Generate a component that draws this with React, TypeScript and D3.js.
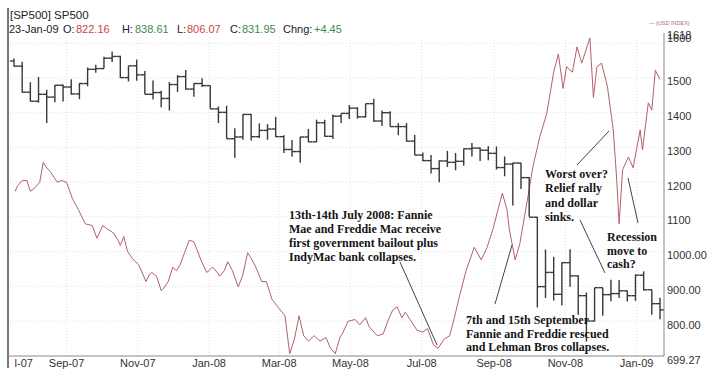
import React from "react";
import * as d3 from "d3";

// ---- DATA ----
// weekly bars (mid-week date of each trading week)
const weeks: Date[] = d3.timeWednesday.range(new Date(2007, 6, 18), new Date(2009, 0, 22));

const spOpen = [1549,1534,1459,1433,1453,1445,1479,1474,1454,1484,1525,1527,1557,1562,1501,1535,1509,1453,1458,1441,
  1481,1504,1468,1484,1478,1411,1401,1325,1330,1395,1331,1349,1353,1331,1294,1288,1330,1316,1371,1332,
  1390,1398,1413,1388,1426,1376,1400,1360,1360,1318,1278,1262,1239,1261,1257,1260,1296,1298,1292,1283,
  1242,1252,1255,1213,1099,899,940,877,968,930,873,800,896,876,879,887,873,932,890,850];
const spHigh = [1556,1547,1488,1503,1466,1480,1481,1496,1485,1530,1538,1561,1576,1564,1535,1553,1520,1493,1463,1488,
  1508,1523,1485,1499,1478,1418,1420,1355,1396,1396,1369,1367,1388,1335,1321,1331,1353,1380,1380,1395,
  1398,1422,1416,1426,1440,1406,1404,1370,1370,1336,1285,1278,1263,1290,1284,1297,1313,1300,1304,1303,
  1274,1256,1256,1215,1100,1006,985,969,1007,932,882,896,896,919,918,888,934,943,890,867];
const spLow = [1533,1458,1433,1429,1370,1430,1432,1452,1439,1476,1515,1527,1546,1500,1490,1492,1453,1438,1416,1406,
  1460,1467,1446,1474,1411,1370,1325,1270,1322,1320,1327,1322,1330,1284,1273,1256,1315,1315,1331,1324,
  1370,1382,1383,1386,1374,1362,1360,1335,1317,1278,1260,1225,1200,1244,1234,1247,1274,1261,1263,1236,
  1217,1133,1180,1100,839,866,859,845,899,818,741,799,815,857,866,856,858,888,818,805];
const spClose = [1534,1459,1433,1453,1445,1479,1474,1454,1484,1525,1527,1557,1562,1501,1535,1509,1453,1458,1441,1481,
  1504,1468,1484,1478,1411,1401,1325,1330,1395,1331,1349,1353,1331,1294,1288,1330,1316,1371,1332,1390,
  1398,1413,1388,1426,1376,1400,1360,1360,1318,1278,1262,1239,1261,1257,1260,1296,1298,1292,1283,1242,
  1252,1255,1213,1099,899,940,877,968,930,873,800,896,876,879,887,873,932,890,850,832];

// USD index (own hidden scale), read at turning points
const usdDates = [
  "2007-07-19","2007-07-21","2007-07-25","2007-07-29","2007-08-01","2007-08-05","2007-08-09","2007-08-12","2007-08-15","2007-08-18",
  "2007-08-24","2007-08-28","2007-09-01","2007-09-06","2007-09-11","2007-09-17","2007-09-23","2007-09-27","2007-10-02","2007-10-06",
  "2007-10-11","2007-10-15","2007-10-17","2007-10-20","2007-10-23","2007-10-27","2007-11-02","2007-11-08","2007-11-11","2007-11-13",
  "2007-11-17","2007-11-21","2007-11-24","2007-11-27","2007-12-01","2007-12-04","2007-12-07","2007-12-11","2007-12-15","2007-12-19",
  "2007-12-22","2007-12-25","2007-12-30","2008-01-04","2008-01-08","2008-01-10","2008-01-14","2008-01-17","2008-01-21","2008-01-26",
  "2008-01-30","2008-02-03","2008-02-06","2008-02-10","2008-02-15","2008-02-19","2008-02-24","2008-03-01","2008-03-06","2008-03-10",
  "2008-03-14","2008-03-18","2008-03-22","2008-03-26","2008-03-31","2008-04-05","2008-04-10","2008-04-14","2008-04-18","2008-04-22",
  "2008-04-24","2008-04-29","2008-05-05","2008-05-09","2008-05-14","2008-05-17","2008-05-24","2008-05-29","2008-06-02","2008-06-06",
  "2008-06-10","2008-06-14","2008-06-17","2008-06-21","2008-06-27","2008-07-02","2008-07-06","2008-07-11","2008-07-15","2008-07-20",
  "2008-07-25","2008-07-29","2008-08-02","2008-08-08","2008-08-15","2008-08-21","2008-08-26","2008-08-31","2008-09-06","2008-09-08",
  "2008-09-12","2008-09-14","2008-09-19","2008-09-23","2008-09-27","2008-10-01","2008-10-04","2008-10-10","2008-10-16","2008-10-22",
  "2008-10-26","2008-10-30","2008-11-02","2008-11-07","2008-11-11","2008-11-15","2008-11-22","2008-11-25","2008-11-28","2008-12-02",
  "2008-12-07","2008-12-12","2008-12-15","2008-12-17","2008-12-20","2008-12-25","2008-12-29","2009-01-04","2009-01-06","2009-01-11",
  "2009-01-14","2009-01-17","2009-01-21"];
const usdValues = [
  79.9,80.2,80.5,80.5,79.9,80.1,80.4,81.5,81.2,81.0,
  80.4,80.5,80.4,79.5,78.9,78.1,78.0,77.3,78.0,77.8,
  77.6,77.2,76.9,77.4,76.6,76.2,75.8,74.9,75.3,75.4,
  75.2,74.4,74.6,74.9,75.7,75.5,75.8,76.5,77.2,77.1,
  76.6,76.1,75.4,75.7,75.4,75.2,75.5,76.0,75.5,74.6,
  75.3,76.5,76.2,75.7,74.9,74.9,73.9,73.4,73.0,70.9,
  71.7,73.0,71.9,71.6,71.9,71.6,71.8,71.2,70.9,71.8,
  72.0,72.7,72.8,72.5,72.9,72.4,71.9,72.0,72.7,73.3,
  73.5,72.9,73.2,72.8,72.2,72.1,72.3,71.4,71.2,71.7,
  71.9,72.9,74.0,75.5,76.8,76.1,76.8,77.8,79.3,79.8,
  78.9,77.8,76.1,77.0,78.5,80.0,81.2,82.9,84.2,86.5,
  87.5,85.6,86.8,86.5,87.9,87.0,88.4,85.1,86.8,87.0,
  85.7,83.3,80.5,78.1,81.1,81.8,81.2,83.3,82.2,84.8,
  84.4,86.6,86.1];

const xTickLabels = ["Jul-07","Sep-07","Nov-07","Jan-08","Mar-08","May-08","Jul-08","Sep-08","Nov-08","Jan-09"];
const yTickValues = [699.27, 800, 900, 1000, 1100, 1200, 1300, 1400, 1500, 1600, 1618];
const yTickLabels = ["699.27","800.00","900.00","1000.00","1100","1200","1300","1400","1500","1600","1618"];

const headerTitle = "[SP500] SP500";
const quoteDate = "23-Jan-09";
const quoteLabels = ["O:", "H:", "L:", "C:", "Chng:"];
const quoteValues = ["822.16", "838.61", "806.07", "831.95", "+4.45"];

const annotations = [
  { lines: ["13th-14th July 2008: Fannie", "Mae and Freddie Mac receive", "first government bailout plus", "IndyMac bank collapses."] },
  { lines: ["7th and 15th September", "Fannie and Freddie rescued", "and Lehman Bros collapses."] },
  { lines: ["Worst over?", "Relief rally", "and dollar", "sinks."] },
  { lines: ["Recession", "move to", "cash?"] },
];

// ---- LAYOUT / STYLE ----
const W = 720, H = 378;
const plotL = 8, plotR = 664, plotT = 37, plotB = 356;
const sans = "Arial, 'Liberation Sans', Helvetica, sans-serif";
const serif = "'Times New Roman', 'Liberation Serif', serif";
const red = "#c8464b", green = "#3d8a4a";
const labelX = [63, 122, 177, 230, 283];
const valueX = [76, 135, 187, 242, 314];

const annoLayout = [
  { x: 289, y: 219, lh: 14, leaders: [[400, 262, 437, 345]] },
  { x: 466, y: 324, lh: 13.5, leaders: [[495, 304, 512, 245]] },
  { x: 545, y: 178, lh: 14.3, leaders: [[577, 165, 609, 131], [580, 220, 605, 273]] },
  { x: 607, y: 241, lh: 13.7, leaders: [[638, 223, 628, 178]] },
];

export default function App() {
  const x = d3.scaleTime().domain([weeks[0], weeks[weeks.length - 1]]).range([14, 660]);
  const y = d3.scaleLinear().domain([699.27, 1618]).range([plotB, plotT]);
  const yUsd = d3.scaleLinear().domain([70, 90]).range([370, 9]);
  const parse = d3.timeParse("%b-%y");
  const parseDay = d3.timeParse("%Y-%m-%d");
  const tickDates = xTickLabels.map((l) => parse(l) as Date);
  const usdPts = usdDates.map((d, i) => [parseDay(d) as Date, usdValues[i]] as [Date, number]);

  const usdLine = d3.line<[Date, number]>().x((d) => x(d[0])).y((d) => yUsd(d[1]))(usdPts) || "";

  const gridY = yTickValues.filter((v) => v >= 800 && v <= 1600);
  const tk = 4;

  return (
    <svg width={W} height={H} style={{ display: "block", position: "absolute", left: 0, top: 0, background: "#fff" }}>
      <defs>
        <clipPath id="xl"><rect x={15} y={0} width={W} height={H} /></clipPath>
      </defs>
      <rect x={0} y={0} width={W} height={H} fill="#fff" />
      {/* header */}
      <text x={10} y={19} fontFamily={sans} fontSize={11.5} fill="#222">{headerTitle}</text>
      <text y={33} fontFamily={sans} fontSize={11} fill="#222">
        <tspan x={9}>{quoteDate}</tspan>
        {quoteLabels.map((l, i) => (
          <React.Fragment key={i}>
            <tspan x={labelX[i]} fill="#222">{l}</tspan>
            <tspan x={valueX[i]} fill={i === 0 || i === 2 ? red : green}>{quoteValues[i]}</tspan>
          </React.Fragment>
        ))}
      </text>
      {/* legend */}
      <text x={649} y={25} fontFamily={sans} fontSize={5.5} fill="#b06a74">— (USD INDEX)</text>

      {/* grid */}
      {gridY.map((v, i) => (
        <line key={"gy" + i} x1={plotL + 2} x2={plotR} y1={y(v)} y2={y(v)} stroke="#d8d8d8" strokeWidth={0.8} strokeDasharray="1,2" />
      ))}
      {tickDates.slice(1).map((d, i) => (
        <line key={"gx" + i} x1={x(d)} x2={x(d)} y1={plotT} y2={plotB} stroke="#d8d8d8" strokeWidth={0.8} strokeDasharray="1,2" />
      ))}

      {/* USD index line */}
      <path d={usdLine} fill="none" stroke="#b4606a" strokeWidth={1} strokeLinejoin="round" />

      {/* SP500 weekly OHLC bars */}
      <g stroke="#383838" strokeWidth={1.4}>
        {weeks.map((d, i) => {
          const cx = x(d);
          return (
            <g key={i}>
              <line x1={cx} x2={cx} y1={y(spHigh[i])} y2={y(spLow[i])} />
              <line x1={cx - tk} x2={cx} y1={y(spOpen[i])} y2={y(spOpen[i])} />
              <line x1={cx} x2={cx + tk} y1={y(spClose[i])} y2={y(spClose[i])} />
            </g>
          );
        })}
      </g>

      {/* frame */}
      <line x1={plotL} x2={plotL} y1={8} y2={368} stroke="#555" strokeWidth={1.6} />
      <line x1={plotL} x2={plotR} y1={plotB} y2={plotB} stroke="#888" strokeWidth={1} />
      <line x1={plotR} x2={plotR} y1={33} y2={plotB} stroke="#888" strokeWidth={1} />

      {/* right axis labels */}
      {yTickValues.map((v, i) => {
        let ty = y(v) + 3.5;
        if (v === 1618) ty = 34.5;
        if (v === 1600) ty = 37.5;
        return (
          <text key={"yl" + i} x={667} y={ty} dominantBaseline="central" fontFamily={sans} fontSize={11} fill="#333">{yTickLabels[i]}</text>
        );
      })}

      {/* x axis labels */}
      {xTickLabels.map((l, i) =>
        i === 0 ? (
          <text key={"xl" + i} x={3} y={367} fontFamily={sans} fontSize={11} fill="#333" clipPath="url(#xl)">{l}</text>
        ) : (
          <text key={"xl" + i} x={x(tickDates[i])} y={367} textAnchor="middle" fontFamily={sans} fontSize={11} fill="#333">{l}</text>
        )
      )}

      {/* annotations */}
      {annotations.map((a, i) => {
        const L = annoLayout[i];
        return (
          <g key={"an" + i}>
            {L.leaders.map((p, j) => (
              <line key={j} x1={p[0]} y1={p[1]} x2={p[2]} y2={p[3]} stroke="#444" strokeWidth={1} />
            ))}
            <text fontFamily={serif} fontSize={12} fontWeight="bold" fill="#151515">
              {a.lines.map((t, j) => (
                <tspan key={j} x={L.x} y={L.y + j * L.lh}>{t}</tspan>
              ))}
            </text>
          </g>
        );
      })}
    </svg>
  );
}
